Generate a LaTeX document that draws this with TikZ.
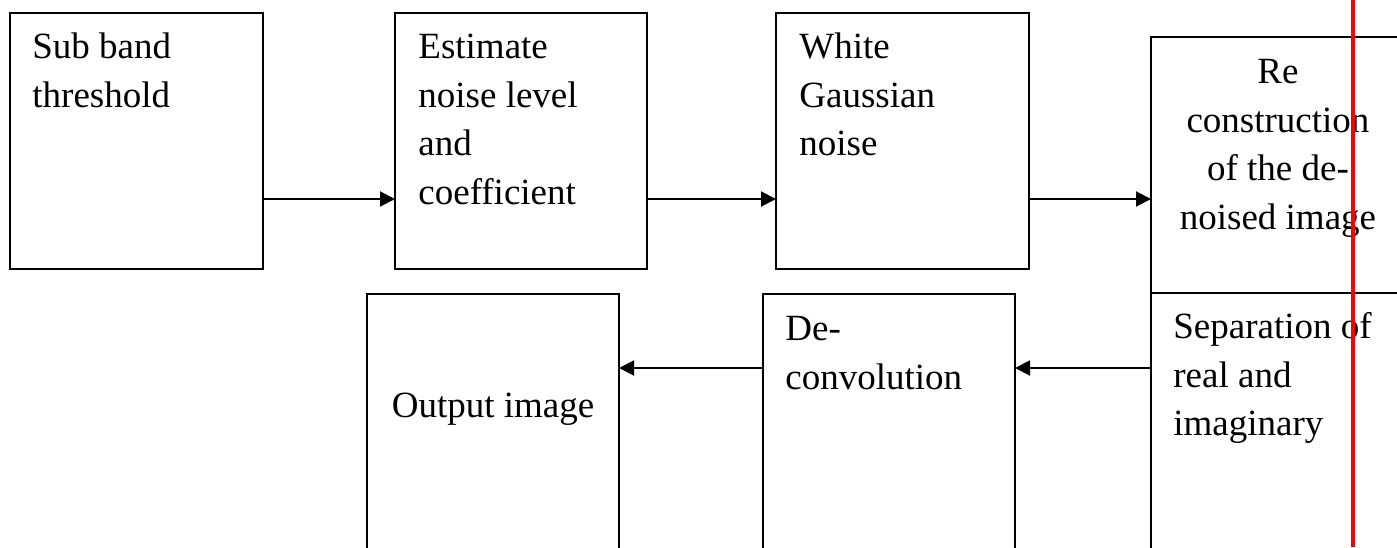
\documentclass[tikz,border=0pt]{standalone}
\usepackage{fontspec}
\setmainfont{Liberation Serif}
\usetikzlibrary{arrows.meta}
\begin{document}
\begin{tikzpicture}[x=0.5pt,y=-0.5pt,
  box/.style={draw=black,line width=1pt,inner sep=0pt,outer sep=0pt,anchor=north west,minimum height=128pt},
  txt/.style={inner sep=0pt,font=\fontsize{18.5}{24.3}\selectfont},
  arr/.style={line width=1pt,-{Triangle[length=7.5pt,width=7.5pt]}}]
\useasboundingbox (0,0) rectangle (1397,547);
\clip (0,0) rectangle (1397,547);
\fill[white] (0,0) rectangle (1397,547);
% boxes
\node[box,minimum width=126.5pt] (b1) at (10,13) {};
\node[box,minimum width=126pt] (b2) at (395,13) {};
\node[box,minimum width=126.5pt] (b3) at (776,13) {};
\node[box,minimum width=126.5pt] (b4) at (1151,37) {};
\node[box,minimum width=126pt] (b5) at (367,294) {};
\node[box,minimum width=126pt] (b6) at (763,294) {};
\node[box,minimum width=126.5pt] (b7) at (1151,293) {};
% texts (first line carries a strut of height 17pt = 34 units)
\node[txt,anchor=north west,align=left] (t1) at (32,24) {\strut Sub band\\threshold};
\node[txt,anchor=north west,align=left] (t2) at (418,24) {\strut Estimate\\noise level\\and\\coefficient};
\node[txt,anchor=north west,align=left] (t3) at (799,24) {\strut White\\Gaussian\\noise};
\node[txt,anchor=north,align=center] (t4) at (1278,49) {\strut Re\\construction\\of the de-\\noised image};
\node[txt,anchor=base] (t5) at (493,417) {Output image};
\node[txt,anchor=north west,align=left] (t6) at (785,306) {\strut De-\\convolution};
\node[txt,anchor=north west,align=left] (t7) at (1173,304) {\strut Separation of\\real and\\imaginary};
% arrow levels
\coordinate (ytop) at (0,199);
\coordinate (ybot) at (0,368);
\draw[arr] (b1.east |- ytop) -- (b2.west |- ytop);
\draw[arr] (b2.east |- ytop) -- (b3.west |- ytop);
\draw[arr] (b3.east |- ytop) -- (b4.west |- ytop);
\draw[arr] (b7.west |- ybot) -- (b6.east |- ybot);
\draw[arr] (b6.west |- ybot) -- (b5.east |- ybot);
% red vertical line
\coordinate (rtop) at (1353,0);
\coordinate (rbot) at (1353,547);
\draw[red,line width=2pt] (rtop) -- (rbot);
\end{tikzpicture}
\end{document}
